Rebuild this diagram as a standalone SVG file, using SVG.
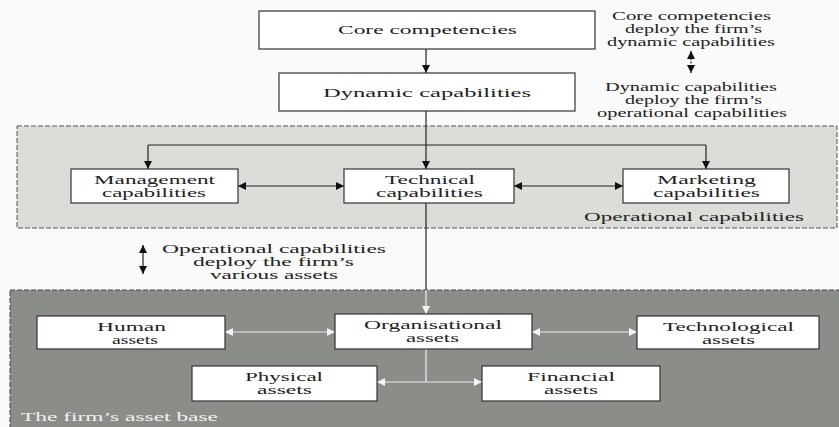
<svg xmlns="http://www.w3.org/2000/svg" width="839" height="427" viewBox="0 0 839 427">
<style>
text{font-family:'Liberation Serif','Times New Roman','DejaVu Serif',serif;font-size:12px;fill:#222;}
.box{fill:#fff;stroke:#333;stroke-width:1.2;}
.wt{fill:#f2f2f2;}
.ln{fill:none;stroke:#222;stroke-width:1.2;}
.lw{fill:none;stroke:#eeeeee;stroke-width:1.2;}
</style>
<defs>
<marker id="ab" viewBox="0 0 10 10" refX="10" refY="5" markerUnits="userSpaceOnUse" markerWidth="10" markerHeight="8" orient="auto-start-reverse"><path d="M0,0 L10,5 L0,10 z" fill="#111"/></marker>
<marker id="aw" viewBox="0 0 10 10" refX="10" refY="5" markerUnits="userSpaceOnUse" markerWidth="10" markerHeight="8" orient="auto-start-reverse"><path d="M0,0 L10,5 L0,10 z" fill="#f4f4f4"/></marker>
</defs>
<rect x="0" y="0" width="839" height="427" fill="#fafafa"/>
<g id="operational-region">
<rect x="17" y="126" width="820" height="102" fill="#dcdcd8" stroke="#555" stroke-width="1" stroke-dasharray="5,2"/>
<text x="584" y="221" textLength="220" lengthAdjust="spacingAndGlyphs">Operational capabilities</text>
</g>
<g id="asset-region">
<rect x="10" y="290" width="840" height="150" fill="#8b8d89" stroke="#444" stroke-width="1" stroke-dasharray="5,2"/>
<text class="wt" x="21" y="421" textLength="197" lengthAdjust="spacingAndGlyphs">The firm’s asset base</text>
</g>
<g id="connectors">
<path class="ln" d="M426,49 V73" marker-end="url(#ab)"/>
<path class="ln" d="M426,111 V169" marker-end="url(#ab)"/>
<path class="ln" d="M148,145 H706"/>
<path class="ln" d="M148,145 V169" marker-end="url(#ab)"/>
<path class="ln" d="M706,145 V169" marker-end="url(#ab)"/>
<path class="ln" d="M238,186 H344" marker-start="url(#ab)" marker-end="url(#ab)"/>
<path class="ln" d="M514,186 H623" marker-start="url(#ab)" marker-end="url(#ab)"/>
<path class="ln" d="M426,203 V290"/>
<path class="lw" d="M426,290 V314" marker-end="url(#aw)"/>
<path class="lw" d="M225,332 H335" marker-start="url(#aw)" marker-end="url(#aw)"/>
<path class="lw" d="M532,332 H637" marker-start="url(#aw)" marker-end="url(#aw)"/>
<path class="lw" d="M426,349 V382"/>
<path class="lw" d="M377,382 H482" marker-start="url(#aw)" marker-end="url(#aw)"/>
<path class="ln" d="M691,51 V73" stroke-dasharray="2,1.5" marker-start="url(#ab)" marker-end="url(#ab)"/>
<path class="ln" d="M143,245 V274" marker-start="url(#ab)" marker-end="url(#ab)"/>
</g>
<g id="note-top">
<text x="612" y="20" textLength="159" lengthAdjust="spacingAndGlyphs">Core competencies</text>
<text x="625" y="33" textLength="137" lengthAdjust="spacingAndGlyphs">deploy the firm’s</text>
<text x="607" y="46" textLength="168" lengthAdjust="spacingAndGlyphs">dynamic capabilities</text>
<text x="605" y="91" textLength="172" lengthAdjust="spacingAndGlyphs">Dynamic capabilities</text>
<text x="625" y="104" textLength="137" lengthAdjust="spacingAndGlyphs">deploy the firm’s</text>
<text x="597" y="117" textLength="190" lengthAdjust="spacingAndGlyphs">operational capabilities</text>
</g>
<g id="note-mid">
<text x="162" y="253" textLength="224" lengthAdjust="spacingAndGlyphs">Operational capabilities</text>
<text x="193" y="266" textLength="161" lengthAdjust="spacingAndGlyphs">deploy the firm’s</text>
<text x="210" y="279" textLength="128" lengthAdjust="spacingAndGlyphs">various assets</text>
</g>
<g id="core-competencies">
<rect class="box" x="259" y="11" width="336" height="38"/>
<text x="338" y="34" textLength="179" lengthAdjust="spacingAndGlyphs">Core competencies</text>
</g>
<g id="dynamic-capabilities">
<rect class="box" x="279" y="73" width="296" height="38"/>
<text x="323" y="96.5" textLength="208" lengthAdjust="spacingAndGlyphs">Dynamic capabilities</text>
</g>
<g id="management-capabilities">
<rect class="box" x="71" y="169" width="167" height="34"/>
<text x="94" y="184" textLength="121" lengthAdjust="spacingAndGlyphs">Management</text>
<text x="102" y="197" textLength="104" lengthAdjust="spacingAndGlyphs">capabilities</text>
</g>
<g id="technical-capabilities">
<rect class="box" x="344" y="169" width="170" height="34"/>
<text x="385" y="184" textLength="90" lengthAdjust="spacingAndGlyphs">Technical</text>
<text x="376" y="197" textLength="107" lengthAdjust="spacingAndGlyphs">capabilities</text>
</g>
<g id="marketing-capabilities">
<rect class="box" x="623" y="169" width="166" height="34"/>
<text x="657" y="184" textLength="99" lengthAdjust="spacingAndGlyphs">Marketing</text>
<text x="653" y="197" textLength="107" lengthAdjust="spacingAndGlyphs">capabilities</text>
</g>
<g id="human-assets">
<rect class="box" x="37" y="316" width="188" height="33"/>
<text x="97" y="330.5" textLength="69" lengthAdjust="spacingAndGlyphs">Human</text>
<text x="112" y="343.5" textLength="46" lengthAdjust="spacingAndGlyphs">assets</text>
</g>
<g id="organisational-assets">
<rect class="box" x="335" y="314" width="197" height="35"/>
<text x="364" y="329" textLength="138" lengthAdjust="spacingAndGlyphs">Organisational</text>
<text x="406" y="342" textLength="53" lengthAdjust="spacingAndGlyphs">assets</text>
</g>
<g id="technological-assets">
<rect class="box" x="637" y="316" width="182" height="33"/>
<text x="663" y="330.5" textLength="131" lengthAdjust="spacingAndGlyphs">Technological</text>
<text x="702" y="343.5" textLength="53" lengthAdjust="spacingAndGlyphs">assets</text>
</g>
<g id="physical-assets">
<rect class="box" x="192" y="366" width="185" height="35"/>
<text x="245" y="381" textLength="78" lengthAdjust="spacingAndGlyphs">Physical</text>
<text x="257" y="394" textLength="55" lengthAdjust="spacingAndGlyphs">assets</text>
</g>
<g id="financial-assets">
<rect class="box" x="482" y="366" width="178" height="35"/>
<text x="527" y="381" textLength="88" lengthAdjust="spacingAndGlyphs">Financial</text>
<text x="544" y="394" textLength="54" lengthAdjust="spacingAndGlyphs">assets</text>
</g>
</svg>
